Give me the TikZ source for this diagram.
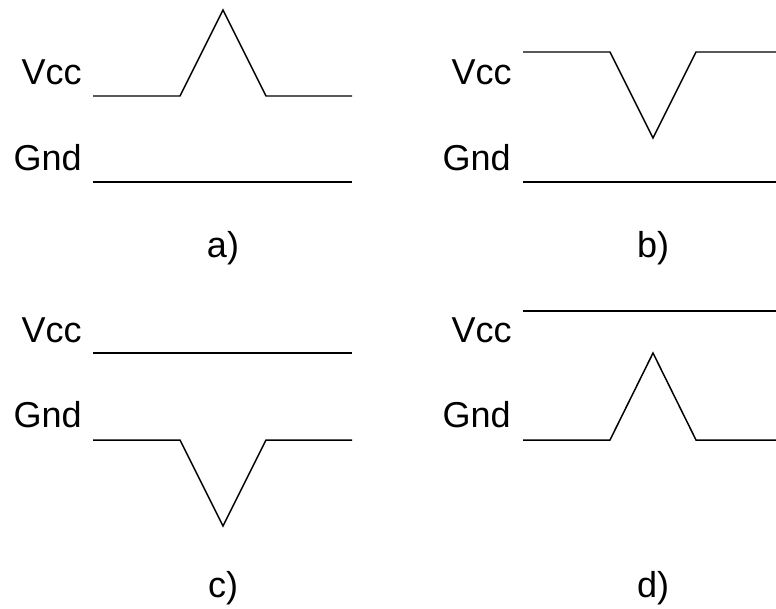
\documentclass[tikz,border=0pt]{standalone}
\usepackage{fontspec}
\setmainfont{Liberation Sans}
\usetikzlibrary{positioning}

\begin{document}
\begin{tikzpicture}[x=0.02cm,y=-0.02cm,
  rail/.style={anchor=base east,inner sep=0pt,font=\fontsize{20.5}{24}\selectfont},
  caption/.style={anchor=base,inner sep=0pt,font=\fontsize{20.5}{24}\selectfont},
  wave/.style={line width=0.85pt,line join=miter}
]
\useasboundingbox (0,0) rectangle (776,608);
% a) spike on Vcc
\node[rail] (vcca) at (82,85) {Vcc};
\node[rail] (gnda) at (82,170) {Gnd};
\draw[wave] (93,96) -- (180,96) -- (223,10) -- (266,96) -- (352,96);
\draw[wave] (93,182) -- (352,182);
\node[caption] (capa) at (223,257) {a)};
% b) dip on Vcc
\node[rail] (vccb) at (512,85) {Vcc};
\node[rail] (gndb) at (511,170) {Gnd};
\draw[wave] (523,52) -- (610,52) -- (653,138) -- (696,52) -- (776,52);
\draw[wave] (523,182) -- (776,182);
\node[caption] (capb) at (653,257) {b)};
% c) dip on Gnd
\node[rail] (vccc) at (82,342) {Vcc};
\node[rail] (gndc) at (82,427) {Gnd};
\draw[wave] (93,353) -- (352,353);
\draw[wave] (93,440) -- (180,440) -- (223,526) -- (266,440) -- (352,440);
\node[caption] (capc) at (223,597) {c)};
% d) spike on Gnd
\node[rail] (vccd) at (512,342) {Vcc};
\node[rail] (gndd) at (511,427) {Gnd};
\draw[wave] (523,311) -- (776,311);
\draw[wave] (523,440) -- (610,440) -- (653,353) -- (696,440) -- (776,440);
\node[caption] (capd) at (653,597) {d)};
\end{tikzpicture}
\end{document}
